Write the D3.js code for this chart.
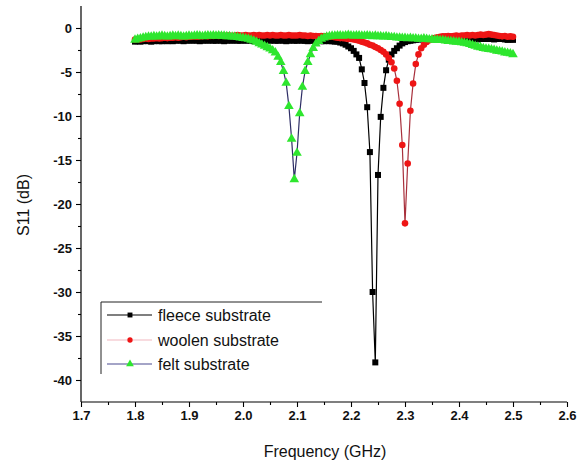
<!DOCTYPE html>
<html><head><meta charset="utf-8">
<script src="https://cdn.jsdelivr.net/npm/d3@7"></script>
<style>
html,body{margin:0;padding:0;background:#fff;}
svg{display:block;font-family:"Liberation Sans",Arial,sans-serif;}
.tk text{font-weight:bold;font-size:13px;fill:#111;font-family:"Liberation Sans",Arial,sans-serif;}
</style></head>
<body><svg id="chart" width="579" height="466"></svg>
<script>
// Frequency sweep: 1.8 GHz to 2.5 GHz, 141 points
const freqStart = 1.8, freqStep = 0.005, freqCount = 141;
const frequencies = d3.range(freqCount).map(i => +(freqStart + i * freqStep).toFixed(3));

const seriesNames = ["fleece substrate", "woolen substrate", "felt substrate"];

const fleeceS11 = [
-1.55,-1.5,-1.55,-1.5,-1.45,-1.5,-1.55,-1.5,-1.45,-1.5,
-1.5,-1.45,-1.5,-1.45,-1.5,-1.45,-1.4,-1.45,-1.5,-1.45,
-1.4,-1.45,-1.4,-1.45,-1.5,-1.45,-1.4,-1.45,-1.4,-1.45,
-1.45,-1.4,-1.45,-1.5,-1.45,-1.4,-1.45,-1.4,-1.45,-1.45,
-1.4,-1.45,-1.4,-1.45,-1.5,-1.45,-1.45,-1.4,-1.45,-1.4,
-1.45,-1.4,-1.45,-1.45,-1.4,-1.45,-1.5,-1.45,-1.4,-1.45,
-1.45,-1.4,-1.45,-1.45,-1.5,-1.45,-1.45,-1.5,-1.45,-1.5,
-1.5,-1.45,-1.5,-1.5,-1.55,-1.55,-1.65,-1.75,-1.9,-2.1,
-2.3,-2.6,-3.0,-3.4,-4.7,-6.25,-9.0,-14.1,-30.0,-38.0,
-16.7,-10.1,-6.8,-4.8,-3.6,-3.0,-2.6,-2.3,-2.0,-1.75,
-1.6,-1.5,-1.45,-1.4,-1.35,-1.3,-1.3,-1.25,-1.3,-1.25,
-1.3,-1.25,-1.3,-1.3,-1.25,-1.3,-1.25,-1.2,-1.25,-1.3,
-1.25,-1.3,-1.25,-1.2,-1.25,-1.3,-1.25,-1.3,-1.25,-1.2,
-1.25,-1.2,-1.25,-1.3,-1.25,-1.2,-1.25,-1.3,-1.35,-1.3,
-1.35];

const woolenS11 = [
-1.3,-1.25,-1.3,-1.25,-1.2,-1.25,-1.2,-1.2,-1.15,-1.2,
-1.15,-1.1,-1.15,-1.1,-1.1,-1.05,-1.1,-1.05,-1.0,-1.05,
-1.0,-1.0,-0.95,-1.0,-0.95,-0.95,-0.9,-0.95,-0.9,-0.9,
-0.85,-0.9,-0.85,-0.9,-0.85,-0.85,-0.9,-0.85,-0.8,-0.85,
-0.85,-0.8,-0.85,-0.85,-0.8,-0.85,-0.8,-0.85,-0.85,-0.8,
-0.85,-0.8,-0.85,-0.85,-0.8,-0.85,-0.85,-0.8,-0.85,-0.85,
-0.85,-0.8,-0.85,-0.85,-0.9,-0.85,-0.9,-0.9,-0.95,-0.9,
-0.95,-0.95,-1.0,-1.0,-1.05,-1.1,-1.15,-1.15,-1.2,-1.25,
-1.25,-1.3,-1.35,-1.45,-1.55,-1.65,-1.75,-1.9,-2.0,-2.15,
-2.3,-2.5,-2.7,-3.0,-3.4,-3.9,-4.6,-6.0,-8.6,-13.3,
-22.2,-15.4,-9.4,-6.3,-4.1,-3.0,-2.3,-1.9,-1.6,-1.4,
-1.25,-1.15,-1.05,-1.0,-0.95,-0.95,-0.9,-0.95,-0.9,-0.85,
-0.9,-0.85,-0.85,-0.8,-0.85,-0.8,-0.85,-0.8,-0.75,-0.8,
-0.75,-0.7,-0.75,-0.8,-0.85,-0.9,-0.95,-0.9,-1.0,-0.95,
-1.0];

const feltS11 = [
-1.35,-1.25,-1.2,-1.1,-1.05,-1.0,-1.0,-0.95,-1.0,-0.95,
-0.9,-0.95,-1.0,-0.95,-0.9,-0.95,-0.9,-0.95,-1.0,-0.95,
-0.9,-0.95,-0.9,-0.85,-0.9,-0.95,-0.9,-0.85,-0.9,-0.85,
-0.9,-0.85,-0.9,-0.9,-0.95,-0.95,-1.0,-1.0,-1.05,-1.1,
-1.15,-1.2,-1.25,-1.35,-1.45,-1.6,-1.75,-1.9,-2.05,-2.2,
-2.35,-2.55,-2.8,-3.3,-3.9,-4.9,-6.25,-8.9,-12.6,-17.2,
-14.2,-9.7,-6.7,-4.9,-3.9,-3.0,-2.3,-1.8,-1.5,-1.25,
-1.1,-1.0,-0.95,-0.9,-0.9,-0.85,-0.85,-0.9,-0.85,-0.8,
-0.85,-0.9,-0.85,-0.85,-0.9,-0.9,-0.85,-0.9,-0.95,-0.9,
-0.95,-0.95,-1.0,-0.95,-1.0,-1.05,-1.05,-1.1,-1.1,-1.15,
-1.15,-1.2,-1.15,-1.2,-1.2,-1.25,-1.25,-1.2,-1.25,-1.3,
-1.3,-1.35,-1.35,-1.4,-1.4,-1.45,-1.5,-1.5,-1.55,-1.6,
-1.6,-1.65,-1.7,-1.75,-1.85,-1.95,-2.05,-2.15,-2.2,-2.3,
-2.35,-2.4,-2.45,-2.5,-2.6,-2.65,-2.7,-2.8,-2.85,-2.9,
-3.0];

const xTickValues = [1.7,1.8,1.9,2.0,2.1,2.2,2.3,2.4,2.5,2.6];
const xTickLabels = ["1.7","1.8","1.9","2.0","2.1","2.2","2.3","2.4","2.5","2.6"];
const yTickValues = [0,-5,-10,-15,-20,-25,-30,-35,-40];
const yTickLabels = ["0","-5","-10","-15","-20","-25","-30","-35","-40"];

const svg = d3.select("#chart");
const x = d3.scaleLinear().domain([1.7, 2.6]).range([81, 567]);
const y = d3.scaleLinear().domain([-42.5, 2.5]).range([402, 6]);

const series = [
  {name: seriesNames[0], values: fleeceS11, line: "#000000", legendLine: "#000000", fill: "#000000", symbol: d3.symbolSquare, size: 36, lsize: 24},
  {name: seriesNames[1], values: woolenS11, line: "#a8303c", legendLine: "#f2b8c0", fill: "#ee1515", symbol: d3.symbolCircle, size: 34, lsize: 22},
  {name: seriesNames[2], values: feltS11, line: "#2e2e66", legendLine: "#4a4a90", fill: "#2ee62e", symbol: d3.symbolTriangle, size: 40, lsize: 26}
];

// Axes
const xMinor = d3.range(1.75, 2.6, 0.1);
const yMinor = d3.range(-37.5, 2.5, 5);
const axisG = svg.append("g").attr("fill", "none").attr("stroke", "#000");
axisG.append("line").attr("x1", x(1.7)).attr("x2", x(1.7)).attr("y1", y(2.5)).attr("y2", y(-42.5)).attr("stroke-width", 1.2);
axisG.append("line").attr("x1", x(1.7)).attr("x2", x(2.6)).attr("y1", y(-42.5)).attr("y2", y(-42.5)).attr("stroke-width", 1.2);

const xAxis = d3.axisBottom(x).tickValues(xTickValues).tickFormat((d,i)=>xTickLabels[i]).tickSize(5).tickPadding(4);
const gx = svg.append("g").attr("class", "tk").attr("transform", `translate(0,${y(-42.5)})`).call(xAxis);
gx.select(".domain").remove();
const gxm = svg.append("g").attr("transform", `translate(0,${y(-42.5)})`).call(d3.axisBottom(x).tickValues(xMinor).tickFormat("").tickSize(3));
gxm.select(".domain").remove();

const yAxis = d3.axisLeft(y).tickValues(yTickValues).tickFormat((d,i)=>yTickLabels[i]).tickSize(5).tickPadding(4);
const gy = svg.append("g").attr("class", "tk").attr("transform", `translate(${x(1.7)},0)`).call(yAxis);
gy.select(".domain").remove();
const gym = svg.append("g").attr("transform", `translate(${x(1.7)},0)`).call(d3.axisLeft(y).tickValues(yMinor).tickFormat("").tickSize(3));
gym.select(".domain").remove();
svg.selectAll(".tick line").attr("stroke-width", 1.1);

// Axis titles
svg.append("text").attr("x", 325).attr("y", 457).attr("text-anchor", "middle").attr("font-size", 16).attr("fill", "#111").text("Frequency (GHz)");
svg.append("text").attr("transform", "translate(29,205) rotate(-90)").attr("text-anchor", "middle").attr("font-size", 16).attr("fill", "#111").text("S11 (dB)");

// Series
const lineGen = d3.line().x((d,i)=>x(frequencies[i])).y(d=>y(d));
series.forEach(s => {
  const g = svg.append("g");
  g.append("path").datum(s.values).attr("d", lineGen).attr("fill", "none").attr("stroke", s.line).attr("stroke-width", 1.2);
  g.selectAll("path.m").data(s.values).enter().append("path").attr("class", "m")
    .attr("d", d3.symbol().type(s.symbol).size(s.size))
    .attr("transform", (d,i)=>`translate(${x(frequencies[i])},${y(d)})`)
    .attr("fill", s.fill).attr("stroke", "none");
});

// Legend
const lg = svg.append("g");
lg.append("line").attr("x1", 101).attr("x2", 322).attr("y1", 302).attr("y2", 302).attr("stroke", "#222").attr("stroke-width", 1);
lg.append("line").attr("x1", 101).attr("x2", 101).attr("y1", 302).attr("y2", 374).attr("stroke", "#222").attr("stroke-width", 1);
const rowsY = [315, 340, 364];
series.forEach((s, k) => {
  const ry = rowsY[k];
  lg.append("line").attr("x1", 107).attr("x2", 152).attr("y1", ry).attr("y2", ry).attr("stroke", s.legendLine).attr("stroke-width", 1.1);
  lg.append("path").attr("d", d3.symbol().type(s.symbol).size(s.lsize)).attr("transform", `translate(130,${ry})`).attr("fill", s.fill);
  lg.append("text").attr("x", 158).attr("y", ry + 5.5).attr("font-size", 16).attr("fill", "#111").text(s.name);
});
</script></body></html>
